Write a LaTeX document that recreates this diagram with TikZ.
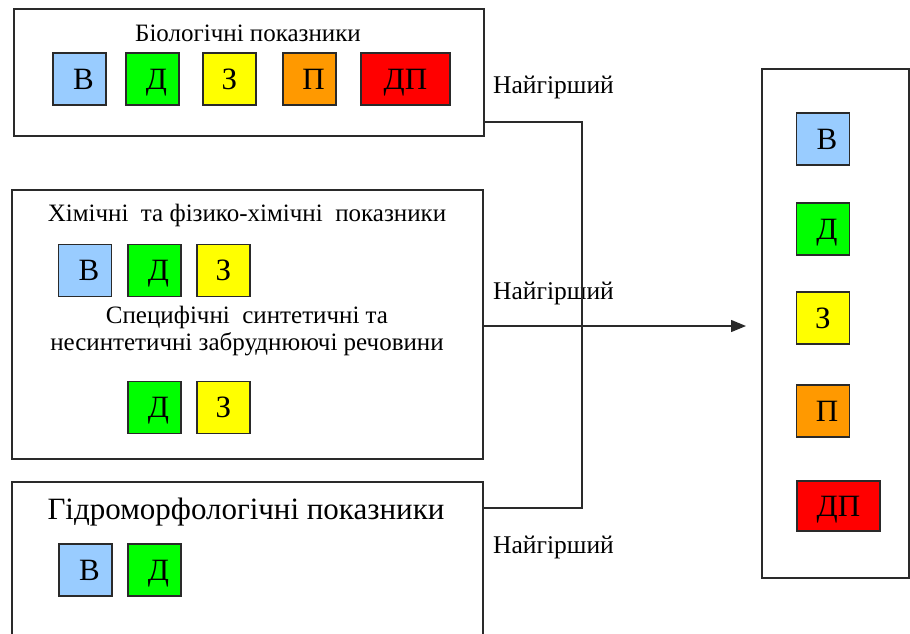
\documentclass[tikz,border=0pt]{standalone}
\usepackage{fontspec}
\setmainfont{Liberation Serif}
\usetikzlibrary{arrows.meta}

\definecolor{qblue}{HTML}{99CCFF}
\definecolor{qgreen}{HTML}{00FF00}
\definecolor{qyellow}{HTML}{FFFF00}
\definecolor{qorange}{HTML}{FF9900}
\definecolor{qred}{HTML}{FF0000}
\definecolor{edge}{HTML}{2A2A2A}

\tikzset{
  panel/.style={draw=edge, line width=1.6pt, fill=white},
  sq/.style={draw=edge, line width=1.6pt, minimum width=53pt, minimum height=52pt,
    inner sep=0pt, text height=20.5pt, text depth=0pt,
    font=\fontsize{31}{31}\selectfont},
  ttl/.style={font=\fontsize{25}{27}\selectfont, inner sep=0pt, align=center},
  worst/.style={font=\fontsize{25.5}{25.5}\selectfont, inner sep=0pt, anchor=west},
  wire/.style={draw=edge, line width=1.6pt},
}
% shift a single letter slightly right inside its square
\newcommand{\lt}[1]{\hspace*{8pt}#1}

\begin{document}
\begin{tikzpicture}[x=1pt, y=-1pt]
\useasboundingbox (0,0) rectangle (910,633);
\clip (0,0) rectangle (910,633);

% panels
\node[panel, minimum width=470pt, minimum height=127pt, anchor=north west] (b1) at (13,8) {};
\node[panel, minimum width=471pt, minimum height=269pt, anchor=north west] (b2) at (11,189) {};
\node[panel, minimum width=471pt, minimum height=200pt, anchor=north west] (b3) at (11,481) {};
\node[panel, minimum width=147pt, minimum height=509pt, anchor=north west] (rb) at (761,68) {};

% titles
\node[ttl] (t1) at (248,33) {Біологічні показники};
\node[ttl] (t2) at (247,215) {Хімічні \ та фізико-хімічні \ показники};
\node[ttl] (t3) at (247,331) {Специфічні \ синтетичні та\\несинтетичні забруднюючі речовини};
\node[ttl, font=\fontsize{31}{31}\selectfont] (t4) at (246,512) {Гідроморфологічні показники};

% biological classes
\node[sq, fill=qblue]   (b1v) at (79.5,79) {\lt{В}};
\node[sq, fill=qgreen]  (b1d) at (152.5,79) {\lt{Д}};
\node[sq, fill=qyellow] (b1z) at (229.5,79) {З};
\node[sq, fill=qorange] (b1p) at (309.5,79) {\lt{П}};
\node[sq, fill=qred, minimum width=89pt] (b1dp) at (405.5,79) {ДП};

% chemical classes
\node[sq, fill=qblue]   (b2v) at (85,270.5) {\lt{В}};
\node[sq, fill=qgreen]  (b2d) at (154.5,270.5) {\lt{Д}};
\node[sq, fill=qyellow] (b2z) at (223.5,270.5) {З};
\node[sq, fill=qgreen]  (b2d2) at (154.5,407.5) {\lt{Д}};
\node[sq, fill=qyellow] (b2z2) at (223.5,407.5) {З};

% hydromorphological classes
\node[sq, fill=qblue]   (b3v) at (85.5,570) {\lt{В}};
\node[sq, fill=qgreen]  (b3d) at (154.5,570) {\lt{Д}};

% resulting classes
\node[sq, fill=qblue]   (rv) at (823,139) {\lt{В}};
\node[sq, fill=qgreen]  (rd) at (823,229) {\lt{Д}};
\node[sq, fill=qyellow] (rz) at (823,318) {З};
\node[sq, fill=qorange] (rp) at (823,411) {\lt{П}};
\node[sq, fill=qred, minimum width=83pt, minimum height=50pt] (rdp) at (838.5,506) {ДП};

% "worst" labels
\node[worst] (w1) at (493,87) {Найгірший};
\node[worst] (w2) at (493,293) {Найгірший};
\node[worst] (w3) at (493,547) {Найгірший};

% connectors
\coordinate (j1) at (582,122);
\coordinate (j2) at (582,508);
\coordinate (ay) at (0,326);
\draw[wire] (b1.east |- j1) -- (j1) -- (j2) -- (b3.east |- j2);
\draw[wire, line width=1.4pt, -{Triangle[length=15pt, width=12pt]}, shorten >=15pt] (b2.east |- ay) -- (rb.west |- ay);
\end{tikzpicture}
\end{document}
